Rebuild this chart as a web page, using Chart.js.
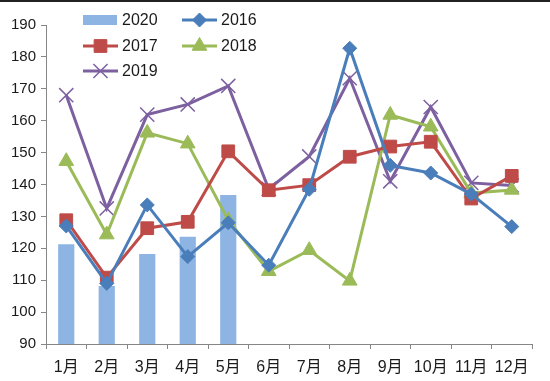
<!DOCTYPE html>
<html><head><meta charset="utf-8">
<script src="https://cdn.jsdelivr.net/npm/chart.js@4"></script>
<style>
html,body{margin:0;padding:0;background:#fff;}
#wrap{position:relative;width:550px;height:381px;}
#top{position:absolute;left:0;top:0;width:550px;height:2px;background:#222;}
</style>
</head><body>
<div id="wrap"><canvas id="c" width="550" height="381"></canvas><div id="top"></div></div>
<script>
const categories = ['1月','2月','3月','4月','5月','6月','7月','8月','9月','10月','11月','12月'];
const s2020 = [121.3,108.2,118.2,123.6,136.7,null,null,null,null,null,null,null];
const s2016 = [127,109,133.6,117.4,128,114.7,138.5,182.7,146,143.6,137,126.8];
const s2017 = [128.8,110.8,126.3,128.3,150.4,138.2,139.8,148.7,151.9,153.4,135.6,142.7];
const s2018 = [147.3,124.3,156.2,152.8,128.8,112.8,119.4,109.8,161.8,158.1,137.3,138.3];
const s2019 = [168,132.5,161.9,165.1,170.9,138.6,148.8,173.3,141,164.3,140.5,139.7];
const yTicks = {min:90, max:190, step:10};

const FONT = "'Liberation Sans', 'Noto Sans CJK SC', sans-serif";
const C2020='#8EB4E3', C2016='#4A7EBB', C2017='#BE4B48', C2018='#9BBB59', C2019='#7D60A0';

const legendPlugin = {
  id:'customLegend',
  afterDraw(chart){
    const ctx = chart.ctx;
    const items = [
      {ds:0, x:83, y:20},
      {ds:1, x:182, y:20},
      {ds:2, x:83, y:46},
      {ds:3, x:182, y:46},
      {ds:4, x:83, y:71}
    ];
    ctx.save();
    items.forEach(it=>{
      const d = chart.data.datasets[it.ds];
      if(d.type==='bar'){
        ctx.fillStyle = d.backgroundColor;
        ctx.fillRect(it.x, it.y-5, 34, 10);
      } else {
        ctx.strokeStyle = d.borderColor;
        ctx.lineWidth = d.borderWidth;
        ctx.beginPath(); ctx.moveTo(it.x, it.y); ctx.lineTo(it.x+35, it.y); ctx.stroke();
        ctx.fillStyle = d.pointBackgroundColor;
        ctx.strokeStyle = d.pointBorderColor;
        ctx.lineWidth = d.pointBorderWidth;
        Chart.helpers.drawPoint(ctx, {pointStyle:d.pointStyle, radius:d.pointRadius, rotation:0, borderWidth:d.pointBorderWidth}, it.x+17.5, it.y);
      }
      ctx.fillStyle = '#1a1a1a';
      ctx.font = '16px ' + FONT;
      ctx.textBaseline = 'middle';
      ctx.textAlign = 'left';
      ctx.fillText(d.label, it.x+39, it.y+1);
    });
    ctx.restore();
  }
};

function lineDs(label, data, color, style, radius, pbw, pfill){
  return {type:'line', label, data, borderColor:color, backgroundColor:color, borderWidth:3,
    pointStyle:style, pointRadius:radius, pointHoverRadius:radius,
    pointBackgroundColor:pfill, pointBorderColor:color, pointBorderWidth:pbw,
    tension:0, fill:false};
}

new Chart(document.getElementById('c'), {
  type:'bar',
  data:{
    labels:categories,
    datasets:[
      {type:'bar', label:'2020', data:s2020, backgroundColor:C2020, barPercentage:0.4, categoryPercentage:1, order:10},
      lineDs('2016', s2016, C2016, 'rectRot', 7, 1, C2016),
      lineDs('2017', s2017, C2017, 'rect', 9, 1, C2017),
      lineDs('2018', s2018, C2018, 'triangle', 8.5, 1, C2018),
      lineDs('2019', s2019, C2019, 'crossRot', 10, 1.5, C2019)
    ]
  },
  options:{
    responsive:false, animation:false,
    layout:{padding:{left:0, right:18, top:25, bottom:0}},
    plugins:{legend:{display:false}, tooltip:{enabled:false}},
    scales:{
      x:{
        offset:true,
        grid:{display:true, drawOnChartArea:false, drawTicks:true, tickLength:5, offset:true, color:'#868686'},
        border:{display:true, color:'#868686', width:1},
        ticks:{color:'#1a1a1a', font:{family:FONT, size:16}, padding:9, maxRotation:0, autoSkip:false},
        afterFit(s){ s.height = 37; }
      },
      y:{
        min:yTicks.min, max:yTicks.max,
        grid:{display:true, drawOnChartArea:false, drawTicks:true, tickLength:5, color:'#868686'},
        border:{display:true, color:'#868686', width:1},
        ticks:{stepSize:yTicks.step, color:'#1a1a1a', font:{family:FONT, size:15}, padding:5},
        afterFit(s){ s.width = 46; }
      }
    }
  },
  plugins:[legendPlugin]
});
</script>
</body></html>
